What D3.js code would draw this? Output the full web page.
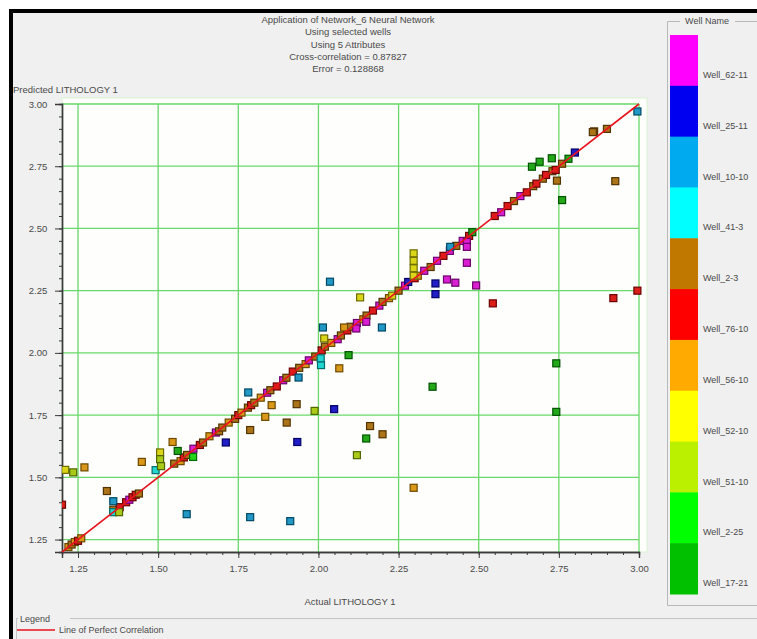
<!DOCTYPE html>
<html>
<head>
<meta charset="utf-8">
<script src="https://cdn.jsdelivr.net/npm/d3@7"></script>
<style>
  html, body { margin: 0; padding: 0; background: #ffffff; overflow: hidden; }
  svg { display: block; }
  text { font-family: "Liberation Sans", Arial, sans-serif; fill: #4a4a4a; }
</style>
</head>
<body>
<svg id="chart" width="757" height="639"></svg>
<script>
// ---- Wells (legend order, top to bottom) ----
const wellNames = ["Well_62-11", "Well_25-11", "Well_10-10", "Well_41-3", "Well_2-3",
                   "Well_76-10", "Well_56-10", "Well_52-10", "Well_51-10", "Well_2-25", "Well_17-21"];
const wellColors = ["#ff00ff", "#0000f0", "#00aaee", "#00ffff", "#c07800",
                    "#ff0000", "#ffaa00", "#ffff00", "#bbf000", "#00ff00", "#00c000"];

// ---- Title block ----
const titleLines = ["Application of Network_6 Neural Network", "Using selected wells",
                    "Using 5 Attributes", "Cross-correlation = 0.87827", "Error = 0.128868"];

// ---- Axis ticks ----
const xTicks = [1.25, 1.50, 1.75, 2.00, 2.25, 2.50, 2.75, 3.00];
const yTicks = [1.25, 1.50, 1.75, 2.00, 2.25, 2.50, 2.75, 3.00];
const axisMin = 1.2, axisMax = 3.0;

// ---- Samples: actual lithology, predicted lithology, well index ----
const actualValues = [
  // along the diagonal
  1.22, 1.23, 1.24, 1.25, 1.26,
  1.36, 1.38, 1.40, 1.41, 1.42, 1.43, 1.44,
  1.55, 1.57, 1.58, 1.59,
  1.61, 1.63, 1.64, 1.66, 1.68, 1.69, 1.70, 1.72, 1.74, 1.75, 1.76, 1.78, 1.79, 1.80,
  1.82, 1.84, 1.85, 1.87, 1.89, 1.90, 1.92, 1.94, 1.96, 1.97, 1.99,
  2.01, 2.02, 2.04, 2.06, 2.07, 2.09, 2.10, 2.12, 2.14, 2.15, 2.17, 2.19, 2.20,
  2.22, 2.23, 2.25, 2.27, 2.28, 2.30, 2.31, 2.33, 2.35, 2.37, 2.39, 2.41, 2.43, 2.45, 2.47, 2.48,
  2.55, 2.57, 2.59, 2.61, 2.63, 2.65, 2.67, 2.68, 2.70, 2.71, 2.73, 2.74, 2.76, 2.78, 2.80,
  2.86, 2.90,
  // scattered
  1.20, 1.21, 1.235, 1.27, 1.34, 1.36, 1.36, 1.378, 1.449, 1.506, 1.506, 1.492, 1.509,
  1.545, 1.561, 1.609, 1.589, 1.711, 1.787, 1.787, 1.781, 1.834, 1.854, 1.901, 1.934,
  1.932, 1.912, 1.988, 1.938, 2.008, 2.007, 2.049, 2.065, 2.12, 2.356, 2.742, 2.742,
  2.161, 2.20, 2.149, 2.297, 2.036, 2.13, 2.014, 2.08, 2.018, 2.198, 2.149, 2.118, 2.094,
  2.297, 2.297, 2.297, 2.297, 2.365, 2.365, 2.401, 2.427, 2.411, 2.463, 2.463, 2.463,
  2.492, 2.544, 2.856, 2.926, 2.995, 2.666, 2.69, 2.728, 2.744, 2.76, 2.92, 2.995
];
const predictedValues = [
  1.22, 1.23, 1.24, 1.245, 1.255,
  1.37, 1.38, 1.40, 1.41, 1.42, 1.43, 1.435,
  1.555, 1.565, 1.58, 1.59,
  1.615, 1.63, 1.64, 1.665, 1.68, 1.685, 1.70, 1.72, 1.735, 1.75, 1.76, 1.78, 1.79, 1.80,
  1.82, 1.84, 1.85, 1.865, 1.89, 1.90, 1.925, 1.94, 1.955, 1.97, 1.985,
  2.01, 2.025, 2.04, 2.055, 2.07, 2.09, 2.105, 2.12, 2.135, 2.15, 2.17, 2.19, 2.205,
  2.22, 2.23, 2.25, 2.27, 2.285, 2.30, 2.31, 2.33, 2.345, 2.37, 2.39, 2.41, 2.43, 2.45, 2.47, 2.485,
  2.55, 2.565, 2.59, 2.61, 2.63, 2.645, 2.67, 2.68, 2.70, 2.715, 2.73, 2.735, 2.76, 2.78, 2.805,
  2.89, 2.90,
  1.39, 1.53, 1.52, 1.54, 1.445, 1.404, 1.36, 1.36, 1.562, 1.60, 1.573, 1.529, 1.545,
  1.642, 1.606, 1.582, 1.352, 1.640, 1.34, 1.69, 1.841, 1.743, 1.79, 1.72, 1.642,
  1.794, 1.324, 1.767, 1.901, 1.951, 1.978, 1.774, 1.938, 1.589, 1.864, 1.958, 1.763,
  1.706, 1.673, 1.656, 1.458, 2.286, 2.223, 2.102, 2.102, 2.058, 2.102, 2.125, 2.098, 1.991,
  2.40, 2.37, 2.34, 2.31, 2.279, 2.236, 2.295, 2.282, 2.426, 2.446, 2.426, 2.362,
  2.271, 2.199, 2.887, 2.69, 2.97, 2.748, 2.768, 2.782, 2.692, 2.614, 2.22, 2.25
];
const wellIndex = [
  6, 4, 6, 5, 6,
  4, 5, 5, 0, 5, 5, 4,
  4, 6, 5, 4,
  0, 5, 4, 6, 0, 4, 4, 6, 4, 5, 6, 4, 5, 4,
  6, 0, 4, 5, 0, 4, 5, 4, 6, 0, 4,
  5, 4, 6, 0, 4, 5, 4, 0, 6, 4, 5, 0, 4,
  6, 7, 4, 0, 1, 5, 6, 0, 4, 0, 5, 0, 4, 0, 5, 10,
  5, 0, 5, 4, 0, 5, 4, 5, 4, 5, 4, 5, 4, 10, 1,
  4, 4,
  5, 7, 8, 6, 4, 2, 3, 8, 6, 7, 8, 3, 8,
  6, 10, 9, 2, 1, 2, 4, 2, 6, 6, 4, 1,
  4, 2, 8, 2, 3, 3, 1, 6, 8, 10, 10, 10,
  4, 4, 10, 6, 2, 7, 2, 6, 7, 2, 0, 0, 10,
  7, 7, 7, 7, 1, 1, 0, 0, 2, 0, 0, 0,
  0, 5, 4, 4, 2, 10, 10, 10, 4, 10, 5, 5
];

const svg = d3.select("#chart");
const W = 757, H = 639;

// panel background and dark frame
svg.append("rect").attr("x", 0).attr("y", 0).attr("width", W).attr("height", H).attr("fill", "#ffffff");
svg.append("rect").attr("x", 11).attr("y", 11).attr("width", W + 20).attr("height", H + 20)
  .attr("fill", "#f0f0f0").attr("stroke", "#000").attr("stroke-width", 4);

// plot geometry
const plot = { left: 62, right: 639, top: 104, bottom: 552 };
const x = d3.scaleLinear().domain([axisMin, axisMax]).range([plot.left, plot.right]);
const y = d3.scaleLinear().domain([axisMin, axisMax]).range([plot.bottom, plot.top]);

// title
svg.append("g").selectAll("text").data(titleLines).join("text")
  .attr("x", 348).attr("y", (d, i) => 23 + i * 12.3)
  .attr("text-anchor", "middle").attr("font-size", 9.5).text(d => d);

// plot area
svg.append("rect").attr("x", plot.left).attr("y", plot.top - 6)
  .attr("width", plot.right - plot.left + 8).attr("height", plot.bottom - plot.top + 6)
  .attr("fill", "#fefffc").attr("stroke", "#d8f2d0").attr("stroke-width", 1);

// grid
const grid = svg.append("g").attr("stroke", "#6ad86a").attr("stroke-width", 1.3);
grid.selectAll("line.gx").data(xTicks).join("line").attr("class", "gx")
  .attr("x1", d => x(d)).attr("x2", d => x(d)).attr("y1", plot.top).attr("y2", plot.bottom);
grid.selectAll("line.gy").data(yTicks).join("line").attr("class", "gy")
  .attr("x1", plot.left).attr("x2", plot.right).attr("y1", d => y(d)).attr("y2", d => y(d));

// axes with minor ticks every 0.05
const minorTicks = d3.range(24, 61).map(v => v / 20);
const xAxisG = svg.append("g").attr("transform", `translate(0,${plot.bottom})`);
xAxisG.call(d3.axisBottom(x).tickValues(minorTicks).tickSize(3).tickFormat(""));
xAxisG.call(g => g.append("g").call(d3.axisBottom(x).tickValues(xTicks).tickSize(6).tickFormat(d3.format(".2f"))));
const yAxisG = svg.append("g").attr("transform", `translate(${plot.left},0)`);
yAxisG.call(d3.axisLeft(y).tickValues(minorTicks).tickSize(3).tickFormat(""));
yAxisG.call(g => g.append("g").call(d3.axisLeft(y).tickValues(yTicks).tickSize(7).tickFormat(d3.format(".2f"))));
svg.selectAll(".domain").attr("stroke", "#3a3a3a").attr("stroke-width", 1.4);
svg.selectAll(".tick line").attr("stroke", "#3a3a3a");
svg.selectAll(".tick text").attr("font-size", 9.5).attr("fill", "#4a4a4a")
  .style("font-family", "'Liberation Sans', Arial, sans-serif");
xAxisG.selectAll(".tick text").attr("dy", "1.2em");
yAxisG.selectAll(".tick text").attr("dx", "-0.5em");

// axis titles
svg.append("text").attr("x", 13).attr("y", 93).attr("font-size", 9.5).text("Predicted LITHOLOGY 1");
svg.append("text").attr("x", 350).attr("y", 605).attr("text-anchor", "middle").attr("font-size", 9.5).text("Actual LITHOLOGY 1");

// sample markers
svg.append("clipPath").attr("id", "plotclip").append("rect")
  .attr("x", plot.left).attr("y", plot.top - 6).attr("width", plot.right - plot.left + 8).attr("height", plot.bottom - plot.top + 6);
const samples = actualValues.map((a, i) => ({ a, p: predictedValues[i], w: wellIndex[i] }));
const ms = 7;
const markerFill = c => d3.interpolateRgb(c, "#7a6a5a")(0.28);
svg.append("g").attr("clip-path", "url(#plotclip)").selectAll("rect").data(samples).join("rect")
  .attr("x", d => x(d.a) - ms / 2).attr("y", d => y(d.p) - ms / 2)
  .attr("width", ms).attr("height", ms)
  .attr("fill", d => markerFill(wellColors[d.w]))
  .attr("stroke", d => d3.color(wellColors[d.w]).darker(2.4))
  .attr("stroke-width", 1.2);

// line of perfect correlation
svg.append("line")
  .attr("x1", x(axisMin)).attr("y1", y(axisMin)).attr("x2", x(axisMax)).attr("y2", y(axisMax))
  .attr("stroke", "#e8141e").attr("stroke-width", 1.6);

// well colour legend
const lg = { x: 670, top: 35, w: 28, h: 559 };
const band = lg.h / wellNames.length;
svg.append("path").attr("d", `M680,21.5 H667.5 V605.5 H${W}`).attr("fill", "none").attr("stroke", "#b8b8b8");
svg.append("path").attr("d", `M735,21.5 H${W}`).attr("fill", "none").attr("stroke", "#b8b8b8");
svg.append("text").attr("x", 707).attr("y", 24).attr("text-anchor", "middle").attr("font-size", 9).text("Well Name");
svg.append("g").selectAll("rect").data(wellNames).join("rect")
  .attr("x", lg.x).attr("y", (d, i) => lg.top + i * band).attr("width", lg.w).attr("height", band + 0.5)
  .attr("fill", (d, i) => wellColors[i]);
svg.append("g").selectAll("text").data(wellNames).join("text")
  .attr("x", 703).attr("y", (d, i) => lg.top + i * band + 43).attr("font-size", 9).text(d => d);

// bottom legend
svg.append("path").attr("d", `M70,618.5 H${W}`).attr("fill", "none").attr("stroke", "#c4c4c4");
svg.append("path").attr("d", `M16,618.5 H18 M16.5,618 V${H}`).attr("fill", "none").attr("stroke", "#c4c4c4");
svg.append("text").attr("x", 20).attr("y", 622).attr("font-size", 9).text("Legend");
svg.append("line").attr("x1", 17).attr("x2", 55).attr("y1", 630).attr("y2", 630)
  .attr("stroke", "#e8141e").attr("stroke-width", 1.6);
svg.append("text").attr("x", 59).attr("y", 633).attr("font-size", 9).text("Line of Perfect Correlation");
</script>
</body>
</html>
